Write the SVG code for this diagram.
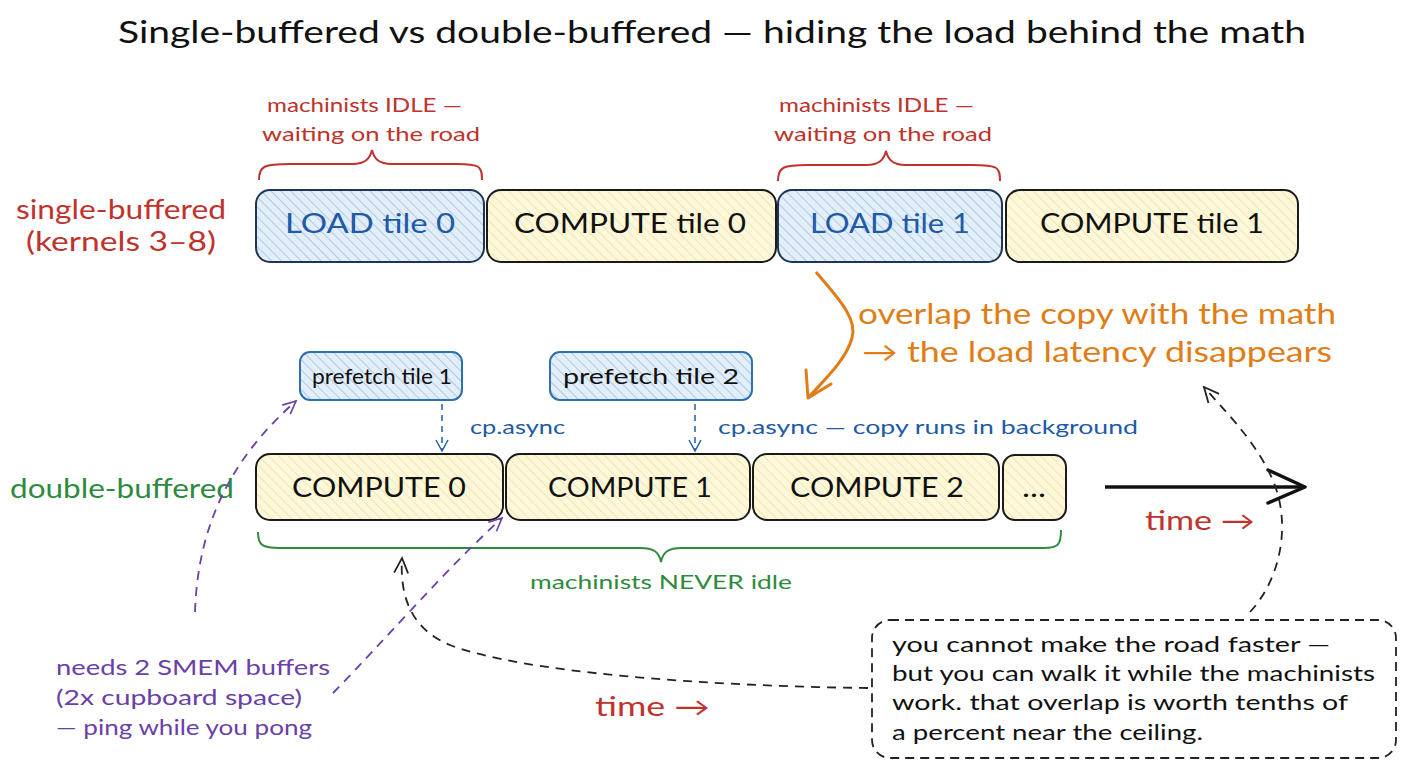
<svg xmlns="http://www.w3.org/2000/svg" width="1408" height="768" viewBox="0 0 1408 768">
<defs>
<pattern id="hBlue" patternUnits="userSpaceOnUse" width="7" height="7" patternTransform="rotate(-45)">
<rect width="7" height="7" fill="#e3eef9"/>
<line x1="0" y1="0" x2="0" y2="7" stroke="#9cc2e6" stroke-width="1.6"/>
</pattern>
<pattern id="hYellow" patternUnits="userSpaceOnUse" width="7" height="7" patternTransform="rotate(-45)">
<rect width="7" height="7" fill="#fdf8dc"/>
<line x1="0" y1="0" x2="0" y2="7" stroke="#efe39c" stroke-width="1.6"/>
</pattern>
<marker id="arrBlue" markerWidth="14" markerHeight="14" refX="12" refY="7" orient="auto" markerUnits="userSpaceOnUse">
<path d="M1,1 L12,7 L1,13" fill="none" stroke="#1f5fa8" stroke-width="1.5"/>
</marker>
<marker id="arrPurple" markerWidth="16" markerHeight="16" refX="14" refY="8" orient="auto" markerUnits="userSpaceOnUse">
<path d="M1,2 L14,8 L1,14" fill="none" stroke="#6a3fa8" stroke-width="1.6"/>
</marker>
<marker id="arrBlack" markerWidth="18" markerHeight="18" refX="16" refY="9" orient="auto" markerUnits="userSpaceOnUse">
<path d="M1,2 L16,9 L1,16" fill="none" stroke="#222" stroke-width="1.8"/>
</marker>
</defs>
<style>
text{font-family:"Lato","Noto Sans","Liberation Sans",sans-serif;}
.title{font-size:30px;fill:#111;}
.box{stroke-width:2;}
.load{fill:url(#hBlue);stroke:#1e3553;}
.comp{fill:url(#hYellow);stroke:#1a1a1a;}
.pre{fill:url(#hBlue);stroke:#2f6fb0;}
.tBlue{font-size:26px;fill:#1f5aa6;}
.tBlk{font-size:26px;fill:#111;}
.tPre{font-size:21px;fill:#111;}
.red{fill:#c0322b;}
.orange{fill:#e07d16;}
.green{fill:#2e8b3e;}
.purple{fill:#6a3fa8;}
.blueT{fill:#1f5aa6;}
.note{font-size:21px;fill:#111;}
</style>
<rect width="1408" height="768" fill="#ffffff"/>

<text class="title" x="118" y="43" textLength="1188" lengthAdjust="spacingAndGlyphs">Single-buffered vs double-buffered — hiding the load behind the math</text>

<!-- side labels -->
<g id="lbl-single">
<text class="red" font-size="26" x="16" y="219" textLength="210" lengthAdjust="spacingAndGlyphs">single-buffered</text>
<text class="red" font-size="26" x="26" y="251" textLength="190" lengthAdjust="spacingAndGlyphs">(kernels 3–8)</text>
</g>
<g id="lbl-double">
<text class="green" font-size="26" x="10" y="498" textLength="224" lengthAdjust="spacingAndGlyphs">double-buffered</text>
</g>

<!-- top row -->
<g id="load0"><rect class="box load" x="256" y="190" width="228" height="72" rx="14"/><text class="tBlue" x="285" y="233" textLength="170" lengthAdjust="spacingAndGlyphs">LOAD tile 0</text></g>
<g id="comp0"><rect class="box comp" x="487" y="190" width="289" height="72" rx="14"/><text class="tBlk" x="514" y="233" textLength="232" lengthAdjust="spacingAndGlyphs">COMPUTE tile 0</text></g>
<g id="load1"><rect class="box load" x="778" y="190" width="224" height="72" rx="14"/><text class="tBlue" x="810" y="233" textLength="160" lengthAdjust="spacingAndGlyphs">LOAD tile 1</text></g>
<g id="comp1"><rect class="box comp" x="1006" y="190" width="292" height="72" rx="14"/><text class="tBlk" x="1040" y="233" textLength="224" lengthAdjust="spacingAndGlyphs">COMPUTE tile 1</text></g>

<!-- idle labels -->
<g id="idle0">
<text class="red" font-size="20" x="267" y="112" textLength="195" lengthAdjust="spacingAndGlyphs">machinists IDLE —</text>
<text class="red" font-size="20" x="262" y="141" textLength="218" lengthAdjust="spacingAndGlyphs">waiting on the road</text>
</g>
<g id="idle1">
<text class="red" font-size="20" x="779" y="112" textLength="195" lengthAdjust="spacingAndGlyphs">machinists IDLE —</text>
<text class="red" font-size="20" x="774" y="141" textLength="218" lengthAdjust="spacingAndGlyphs">waiting on the road</text>
</g>

<!-- orange note -->
<g id="overlap">
<text class="orange" font-size="28" x="858" y="324" textLength="478" lengthAdjust="spacingAndGlyphs">overlap the copy with the math</text>
<text class="orange" font-size="28" x="862" y="362" textLength="470" lengthAdjust="spacingAndGlyphs">→ the load latency disappears</text>
</g>

<!-- prefetch -->
<g id="pre1"><rect class="box pre" x="300" y="352" width="162" height="48" rx="10"/><text class="tPre" x="312" y="384" textLength="140" lengthAdjust="spacingAndGlyphs">prefetch tile 1</text></g>
<g id="pre2"><rect class="box pre" x="550" y="352" width="202" height="48" rx="10"/><text class="tPre" x="563" y="384" textLength="176" lengthAdjust="spacingAndGlyphs">prefetch tile 2</text></g>

<!-- bottom row -->
<g id="c0"><rect class="box comp" x="256" y="454" width="247" height="66" rx="14"/><text class="tBlk" x="292" y="497" textLength="174" lengthAdjust="spacingAndGlyphs">COMPUTE 0</text></g>
<g id="c1"><rect class="box comp" x="506" y="454" width="244" height="66" rx="14"/><text class="tBlk" x="548" y="497" textLength="164" lengthAdjust="spacingAndGlyphs">COMPUTE 1</text></g>
<g id="c2"><rect class="box comp" x="753" y="454" width="246" height="66" rx="14"/><text class="tBlk" x="790" y="497" textLength="174" lengthAdjust="spacingAndGlyphs">COMPUTE 2</text></g>
<g id="cdots"><rect class="box comp" x="1003" y="455" width="63" height="65" rx="12"/><text class="tBlk" x="1022" y="497" textLength="24" lengthAdjust="spacingAndGlyphs">...</text></g>

<g id="labels">
<text class="blueT" font-size="20" x="470" y="434" textLength="95" lengthAdjust="spacingAndGlyphs">cp.async</text>
<text class="blueT" font-size="20" x="718" y="434" textLength="420" lengthAdjust="spacingAndGlyphs">cp.async — copy runs in background</text>
<text class="green" font-size="20" x="530" y="589" textLength="262" lengthAdjust="spacingAndGlyphs">machinists NEVER idle</text>
<text class="red" font-size="26" x="1145" y="530" textLength="110" lengthAdjust="spacingAndGlyphs">time →</text>
<text class="red" font-size="26" x="595" y="716" textLength="115" lengthAdjust="spacingAndGlyphs">time →</text>
</g>

<g id="purple-note">
<text class="purple" font-size="21" x="56" y="675" textLength="274" lengthAdjust="spacingAndGlyphs">needs 2 SMEM buffers</text>
<text class="purple" font-size="21" x="56" y="705" textLength="246" lengthAdjust="spacingAndGlyphs">(2x cupboard space)</text>
<text class="purple" font-size="21" x="56" y="735" textLength="256" lengthAdjust="spacingAndGlyphs">— ping while you pong</text>
</g>

<g id="note">
<rect x="872" y="620" width="524" height="138" rx="18" fill="none" stroke="#222" stroke-width="1.8" stroke-dasharray="9 6"/>
<text class="note" x="892" y="652" textLength="438" lengthAdjust="spacingAndGlyphs">you cannot make the road faster —</text>
<text class="note" x="892" y="681" textLength="483" lengthAdjust="spacingAndGlyphs">but you can walk it while the machinists</text>
<text class="note" x="892" y="710" textLength="456" lengthAdjust="spacingAndGlyphs">work. that overlap is worth tenths of</text>
<text class="note" x="892" y="740" textLength="311" lengthAdjust="spacingAndGlyphs">a percent near the ceiling.</text>
</g>

<g id="connectors" fill="none">
<!-- red braces -->
<path d="M259,180 C259,166 264,164 290,164 L352,164 C366,164 370,158 372,150 C374,158 378,164 392,164 L456,164 C480,164 482,166 482,180" stroke="#c0322b" stroke-width="2"/>
<path d="M778,181 C778,167 783,165 808,165 L866,165 C880,165 884,159 886,151 C888,159 892,165 906,165 L972,165 C998,165 1000,167 1000,181" stroke="#c0322b" stroke-width="2"/>
<!-- green brace -->
<path d="M258,532 C258,545 262,548 280,548 L640,548 C654,548 659,552 661,562 C663,552 668,548 682,548 L1044,548 C1058,548 1061,545 1061,530" stroke="#2e8b3e" stroke-width="2"/>
<!-- orange arrow -->
<path d="M816,272 C836,296 858,318 852,338 C846,360 824,380 808,398" stroke="#e07d16" stroke-width="3"/>
<path d="M808,398 L806,370 M808,398 L831,384" stroke="#e07d16" stroke-width="3" stroke-linecap="round"/>
<!-- cp.async arrows -->
<path d="M442,404 L442,451" stroke="#1f5fa8" stroke-width="1.5" stroke-dasharray="6 5" marker-end="url(#arrBlue)"/>
<path d="M695,404 L695,451" stroke="#1f5fa8" stroke-width="1.5" stroke-dasharray="6 5" marker-end="url(#arrBlue)"/>
<!-- time axis -->
<path d="M1105,487 L1303,487" stroke="#111" stroke-width="3.5"/>
<path d="M1268,470 L1305,487 L1268,503" stroke="#111" stroke-width="3.5" stroke-linejoin="round" stroke-linecap="round"/>
<!-- purple dashed arrows -->
<path d="M195,612 C198,520 235,455 296,401" stroke="#6a3fa8" stroke-width="1.8" stroke-dasharray="9 7" marker-end="url(#arrPurple)"/>
<path d="M333,693 C385,640 445,570 502,518" stroke="#6a3fa8" stroke-width="1.8" stroke-dasharray="9 7" marker-end="url(#arrPurple)"/>
<!-- black dashed curves -->
<path d="M868,688 C700,686 520,672 450,645 C408,628 400,592 402,558" stroke="#222" stroke-width="1.8" stroke-dasharray="9 7" marker-end="url(#arrBlack)"/>
<path d="M1250,612 C1280,580 1295,520 1268,470 C1250,435 1222,408 1204,387" stroke="#222" stroke-width="1.8" stroke-dasharray="9 7" marker-end="url(#arrBlack)"/>
</g>
</svg>
